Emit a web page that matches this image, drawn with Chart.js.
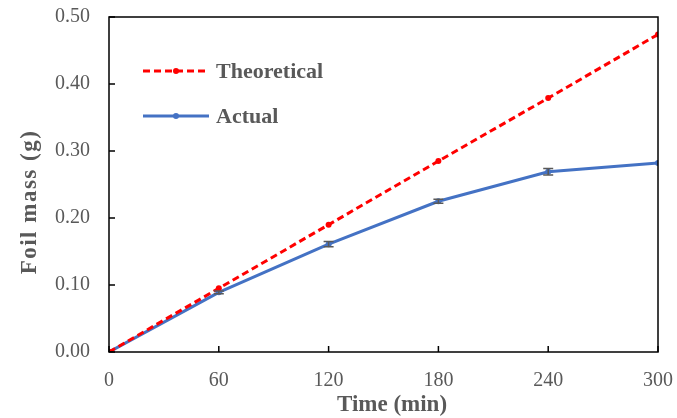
<!DOCTYPE html>
<html>
<head>
<meta charset="utf-8">
<script src="https://cdn.jsdelivr.net/npm/chart.js@4"></script>
<style>
  html, body { margin: 0; padding: 0; background: #fff; }
  #wrap { width: 677px; height: 418px; }
</style>
</head>
<body>
<div id="wrap"><canvas id="massChart" width="677" height="418"></canvas></div>
<script>
// Datos
const timeMin = [0, 60, 120, 180, 240, 300];
const theoretical = [0, 0.095, 0.190, 0.285, 0.379, 0.474];
const actual = [0, 0.089, 0.161, 0.225, 0.269, 0.282];
const actualErr = [0, 0.002, 0.004, 0.003, 0.005, 0];
const xTicks = [0, 60, 120, 180, 240, 300];
const yTicks = [0, 0.1, 0.2, 0.3, 0.4, 0.5];
const seriesNames = ['Theoretical', 'Actual'];
const xTitle = 'Time (min)';
const yTitle = 'Foil mass (g)';

const grey = '#595959';
const serif = '"Liberation Serif", "Times New Roman", serif';

// Marco, marcas de eje hacia dentro, barras de error, leyenda y títulos
const extrasPlugin = {
    id: 'extras',
    afterDatasetsDraw(chart) {
        const ctx = chart.ctx;
        const a = chart.chartArea;
        const xs = chart.scales.x;
        const ys = chart.scales.y;
        ctx.save();

        // barras de error
        ctx.strokeStyle = grey;
        ctx.lineWidth = 1.5;
        actual.forEach((v, i) => {
            const e = actualErr[i];
            if (!e) return;
            const px = xs.getPixelForValue(timeMin[i]);
            const top = ys.getPixelForValue(v + e);
            const bot = ys.getPixelForValue(v - e);
            ctx.beginPath();
            ctx.moveTo(px, top); ctx.lineTo(px, bot);
            ctx.moveTo(px - 5, top); ctx.lineTo(px + 5, top);
            ctx.moveTo(px - 5, bot); ctx.lineTo(px + 5, bot);
            ctx.stroke();
        });

        // marco
        ctx.strokeStyle = '#000';
        ctx.lineWidth = 1.5;
        ctx.strokeRect(a.left, a.top, a.right - a.left, a.bottom - a.top);

        // marcas
        ctx.beginPath();
        xTicks.forEach(t => {
            const px = xs.getPixelForValue(t);
            ctx.moveTo(px, a.bottom); ctx.lineTo(px, a.bottom - 6);
        });
        yTicks.forEach(t => {
            const py = ys.getPixelForValue(t);
            ctx.moveTo(a.left, py); ctx.lineTo(a.left + 6, py);
        });
        ctx.stroke();

        // leyenda
        const rows = [
            { name: seriesNames[0], color: '#FF0000', dash: [7, 4], y: 71 },
            { name: seriesNames[1], color: '#4472C4', dash: [], y: 116 }
        ];
        rows.forEach(r => {
            ctx.strokeStyle = r.color;
            ctx.lineWidth = 3;
            ctx.setLineDash(r.dash);
            ctx.beginPath();
            ctx.moveTo(143, r.y); ctx.lineTo(209, r.y);
            ctx.stroke();
            ctx.setLineDash([]);
            ctx.fillStyle = r.color;
            ctx.beginPath();
            ctx.arc(176, r.y, 3, 0, Math.PI * 2);
            ctx.fill();
            ctx.fillStyle = grey;
            ctx.font = 'bold 22px ' + serif;
            ctx.textBaseline = 'middle';
            ctx.textAlign = 'left';
            ctx.fillText(r.name, 216, r.y + 1);
        });

        // título del eje x
        ctx.fillStyle = grey;
        ctx.textAlign = 'center';
        ctx.textBaseline = 'middle';
        ctx.font = 'bold 23px ' + serif;
        ctx.fillText(xTitle, 392, 405);

        // título del eje y
        ctx.translate(30, 202);
        ctx.rotate(-Math.PI / 2);
        ctx.letterSpacing = '1.5px';
        ctx.fillText(yTitle, 0, 0);
        ctx.letterSpacing = '0px';
        ctx.restore();
    }
};

// quitar el relleno extra que Chart.js reserva para las etiquetas de los bordes
const noEdgePadding = (s) => {
    s.paddingLeft = 0; s.paddingRight = 0;
    s.paddingTop = 0; s.paddingBottom = 0;
};

const ctx = document.getElementById('massChart').getContext('2d');
const chart = new Chart(ctx, {
    type: 'line',
    data: {
        datasets: [
            {
                label: seriesNames[0],
                data: timeMin.map((t, i) => ({ x: t, y: theoretical[i] })),
                borderColor: '#FF0000',
                backgroundColor: '#FF0000',
                borderWidth: 3,
                borderDash: [7, 4],
                pointRadius: 3,
                pointBorderWidth: 0,
                tension: 0
            },
            {
                label: seriesNames[1],
                data: timeMin.map((t, i) => ({ x: t, y: actual[i] })),
                borderColor: '#4472C4',
                backgroundColor: '#4472C4',
                borderWidth: 3,
                pointRadius: 3,
                pointBorderWidth: 0,
                tension: 0
            }
        ]
    },
    options: {
        responsive: false,
        animation: false,
        layout: { padding: { left: 0, right: 19, top: 17, bottom: 0 } },
        plugins: {
            legend: { display: false },
            tooltip: { enabled: false }
        },
        scales: {
            x: {
                type: 'linear',
                min: 0,
                max: 300,
                afterBuildTicks: (s) => { s.ticks = xTicks.map(v => ({ value: v })); },
                afterFit: (s) => { s.height = 66; noEdgePadding(s); },
                grid: { display: false, drawTicks: false },
                border: { display: false },
                ticks: {
                    color: grey,
                    padding: 17,
                    maxRotation: 0,
                    font: { family: serif, size: 20 }
                }
            },
            y: {
                min: 0,
                max: 0.5,
                afterBuildTicks: (s) => { s.ticks = yTicks.map(v => ({ value: v })); },
                afterFit: (s) => { s.width = 109; noEdgePadding(s); },
                grid: { display: false, drawTicks: false },
                border: { display: false },
                ticks: {
                    color: grey,
                    padding: 19,
                    font: { family: serif, size: 20 },
                    callback: (v) => v.toFixed(2)
                }
            }
        }
    },
    plugins: [extrasPlugin]
});
</script>
</body>
</html>
